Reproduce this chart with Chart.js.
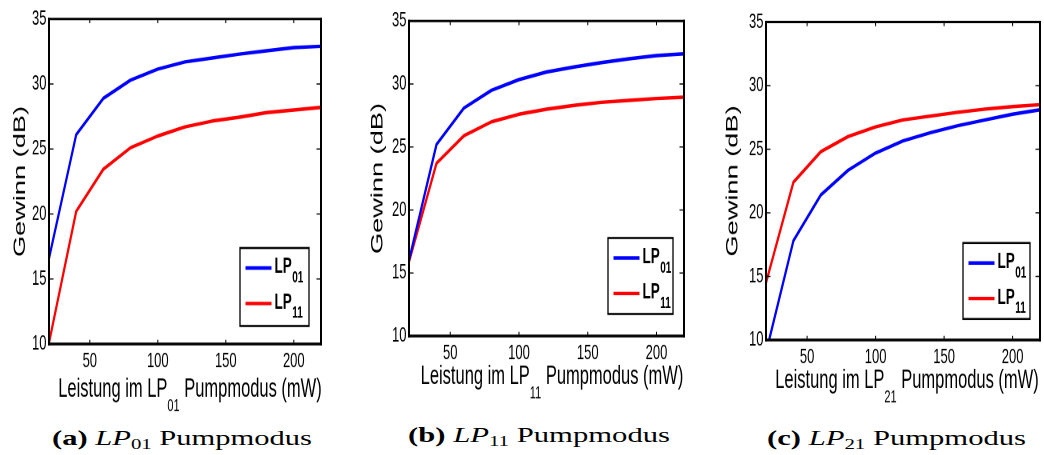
<!DOCTYPE html>
<html>
<head>
<meta charset="utf-8">
<script src="https://cdn.jsdelivr.net/npm/chart.js@4.4.1/dist/chart.umd.min.js"></script>
<style>
  html, body { margin: 0; padding: 0; background: #fff; }
  #fig { position: relative; width: 1044px; height: 455px; overflow: hidden; background: #fff; }
  .panel { position: absolute; top: 0; transform-origin: 0 0; }
  .panel canvas { display: block; }
  .cap { position: absolute; white-space: nowrap; font-family: "Liberation Serif", "Times New Roman", serif;
         font-size: 22px; line-height: 22px; color: #000; transform-origin: 0 0; }
  .cap i { font-style: italic; }
  .cap sub { font-size: 15px; vertical-align: -4px; line-height: 0; }
</style>
</head>
<body>
<div id="fig">
  <div class="panel" id="pa"><canvas id="ca"></canvas></div>
  <div class="panel" id="pb"><canvas id="cb"></canvas></div>
  <div class="panel" id="pc"><canvas id="cc"></canvas></div>
  <div class="cap" id="capa"><b>(a)</b> <i>LP</i><sub>01</sub> Pumpmodus</div>
  <div class="cap" id="capb"><b>(b)</b> <i>LP</i><sub>11</sub> Pumpmodus</div>
  <div class="cap" id="capc"><b>(c)</b> <i>LP</i><sub>21</sub> Pumpmodus</div>
</div>
<script>
// Pump power (mW) at which the gain was evaluated
const pumpPower = [20, 40, 60, 80, 100, 120, 140, 160, 180, 200, 220];

// Signal gain (dB) for the LP01 and LP11 signal modes, per pump mode
const gainLP01_pumpLP01 = [16.6, 26.1, 28.9, 30.3, 31.15, 31.7, 32.0, 32.3, 32.55, 32.8, 32.9];
const gainLP11_pumpLP01 = [10.1, 20.2, 23.45, 25.1, 26.0, 26.7, 27.15, 27.45, 27.8, 28.0, 28.2];

const gainLP01_pumpLP11 = [16.0, 25.2, 28.1, 29.5, 30.35, 30.95, 31.35, 31.7, 32.0, 32.25, 32.4];
const gainLP11_pumpLP11 = [15.9, 23.7, 25.9, 27.0, 27.6, 28.0, 28.3, 28.55, 28.7, 28.85, 28.95];

const gainLP01_pumpLP21 = [9.0, 17.8, 21.4, 23.35, 24.7, 25.65, 26.3, 26.85, 27.3, 27.75, 28.1];
const gainLP11_pumpLP21 = [14.5, 22.4, 24.8, 26.0, 26.75, 27.3, 27.6, 27.9, 28.15, 28.35, 28.5];

// Axis ticks and labels
const xTickValues = [50, 100, 150, 200];
const yTickValues = [10, 15, 20, 25, 30, 35];
const seriesLabels = ['LP01', 'LP11'];
const seriesColors = ['#0000ff', '#ff0000'];
const pumpModes = ['01', '11', '21'];
const yTitle = 'Gewinn (dB)';

// Each plot canvas is drawn flat and stretched vertically on screen
const S = 1.6;
const CANVAS_H = 260;
const SANS = '"Liberation Sans", Arial, Helvetica, sans-serif';

// Panel geometry in page pixels
const panels = [
  { wrap: 'pa', left: 0,   width: 332, top: 19, bottom: 344, plotLeft: 49, plotRight: 321,
    yTitleX: 20.5, xTitleCx: 190, xTitleBase: 397,
    legend: { x: 240, y: 248, w: 69, h: 78 },
    series: [gainLP01_pumpLP01, gainLP11_pumpLP01], mode: pumpModes[0] },
  { wrap: 'pb', left: 360, width: 334, top: 21, bottom: 336, plotLeft: 49, plotRight: 324,
    yTitleX: 18, xTitleCx: 192, xTitleBase: 384,
    legend: { x: 608, y: 238, w: 65, h: 76 },
    series: [gainLP01_pumpLP11, gainLP11_pumpLP11], mode: pumpModes[1] },
  { wrap: 'pc', left: 712, width: 332, top: 22, bottom: 340, plotLeft: 54, plotRight: 328,
    yTitleX: 21, xTitleCx: 195, xTitleBase: 388,
    legend: { x: 963, y: 243, w: 67, h: 76 },
    series: [gainLP01_pumpLP21, gainLP11_pumpLP21], mode: pumpModes[2] }
];

// Axes box, inward ticks, axis titles with subscripts and the framed legend
const panelDecor = {
  id: 'panelDecor',
  afterDatasetsDraw(chart, args, o) {
    const { ctx, chartArea: a } = chart;
    const xs = chart.scales.x, ys = chart.scales.y;
    ctx.save();
    ctx.strokeStyle = '#000';
    ctx.fillStyle = '#000';

    // inward tick marks on all four sides
    ctx.lineWidth = 1;
    xs.ticks.forEach(t => {
      const px = xs.getPixelForValue(t.value);
      ctx.beginPath();
      ctx.moveTo(px, a.bottom); ctx.lineTo(px, a.bottom - 2.6);
      ctx.moveTo(px, a.top); ctx.lineTo(px, a.top + 2.6);
      ctx.stroke();
    });
    ctx.lineWidth = 0.8;
    ys.ticks.forEach(t => {
      const py = ys.getPixelForValue(t.value);
      ctx.beginPath();
      ctx.moveTo(a.left, py); ctx.lineTo(a.left + 4.5, py);
      ctx.moveTo(a.right, py); ctx.lineTo(a.right - 4.5, py);
      ctx.stroke();
    });

    // axes box
    ctx.lineWidth = 2;
    ctx.beginPath();
    ctx.moveTo(a.left, a.top - 0.8); ctx.lineTo(a.left, a.bottom + 0.9);
    ctx.moveTo(a.right, a.top - 0.8); ctx.lineTo(a.right, a.bottom + 0.9);
    ctx.stroke();
    ctx.lineWidth = 1.5;
    ctx.beginPath();
    ctx.moveTo(a.left - 1, a.top); ctx.lineTo(a.right + 1, a.top);
    ctx.stroke();
    ctx.lineWidth = 1.8;
    ctx.beginPath();
    ctx.moveTo(a.left - 1, a.bottom); ctx.lineTo(a.right + 1, a.bottom);
    ctx.stroke();

    // y axis title
    ctx.save();
    ctx.translate(o.yTitleX, (a.top + a.bottom) / 2);
    ctx.rotate(-Math.PI / 2);
    ctx.font = '17px ' + SANS;
    ctx.textAlign = 'center';
    ctx.textBaseline = 'middle';
    ctx.fillText(yTitle, 0, 0);
    ctx.restore();

    // x axis title with subscripted pump mode
    const parts = [
      { t: 'Leistung im LP', f: '16.5px ' + SANS, dy: 0 },
      { t: o.mode, f: '11px ' + SANS, dy: 8.75 },
      { t: ' Pumpmodus (mW)', f: '16.5px ' + SANS, dy: 0 }
    ];
    let total = 0;
    parts.forEach(p => { ctx.font = p.f; p.w = ctx.measureText(p.t).width; total += p.w; });
    let x = o.xTitleCx - total / 2;
    const base = o.xTitleBase / S;
    ctx.textAlign = 'left';
    ctx.textBaseline = 'alphabetic';
    parts.forEach(p => { ctx.font = p.f; ctx.fillText(p.t, x, base + p.dy); x += p.w; });

    // legend
    const L = o.legend;
    const bx = L.x, by = L.y / S, bw = L.w, bh = L.h / S;
    ctx.fillStyle = '#fff';
    ctx.fillRect(bx, by, bw, bh);
    ctx.strokeStyle = '#000';
    ctx.lineWidth = 1.3;
    ctx.strokeRect(bx, by, bw, bh);
    chart.data.datasets.forEach((ds, i) => {
      const ly = by + (20 + 35.5 * i) / S;
      ctx.strokeStyle = ds.borderColor;
      ctx.lineWidth = 2.2;
      ctx.beginPath();
      ctx.moveTo(bx + 5.5, ly); ctx.lineTo(bx + 31.5, ly);
      ctx.stroke();
      const m = /^(\D+)(\d+)$/.exec(ds.label);
      ctx.fillStyle = '#000';
      ctx.font = 'bold 13.5px ' + SANS;
      const tx = bx + 34.5, tb = ly + 3.2;
      ctx.fillText(m[1], tx, tb);
      const w = ctx.measureText(m[1]).width;
      ctx.font = 'bold 10px ' + SANS;
      ctx.fillText(m[2], tx + w + 0.5, tb + 5.8);
    });
    ctx.restore();
  }
};

panels.forEach(p => {
  const wrap = document.getElementById(p.wrap);
  wrap.style.left = p.left + 'px';
  wrap.style.width = p.width + 'px';
  wrap.style.height = CANVAS_H + 'px';
  wrap.style.transform = 'scaleY(' + S + ')';
  const canvas = wrap.querySelector('canvas');
  canvas.width = p.width;
  canvas.height = CANVAS_H;
  const xAxisH = CANVAS_H - p.bottom / S;

  new Chart(canvas, {
    type: 'line',
    data: {
      datasets: p.series.map((vals, i) => ({
        label: seriesLabels[i],
        data: pumpPower.map((x, j) => ({ x: x, y: vals[j] })),
        borderColor: seriesColors[i],
        backgroundColor: seriesColors[i],
        borderWidth: 2.2,
        borderJoinStyle: 'round',
        pointRadius: 0,
        fill: false,
        tension: 0
      }))
    },
    plugins: [panelDecor],
    options: {
      responsive: false,
      animation: false,
      devicePixelRatio: 2,
      layout: { padding: { left: 0, right: p.width - p.plotRight, top: p.top / S, bottom: 0 } },
      plugins: {
        legend: { display: false },
        tooltip: { enabled: false },
        panelDecor: {
          yTitleX: p.yTitleX, xTitleCx: p.xTitleCx, xTitleBase: p.xTitleBase,
          legend: { x: p.legend.x - p.left, y: p.legend.y, w: p.legend.w, h: p.legend.h },
          mode: p.mode
        }
      },
      scales: {
        x: {
          type: 'linear', min: 20, max: 220,
          grid: { display: false, drawTicks: false },
          border: { display: false },
          afterBuildTicks: s => { s.ticks = xTickValues.map(v => ({ value: v })); },
          afterFit: s => { s.height = xAxisH; },
          ticks: { color: '#000', font: { family: SANS, size: 13 }, padding: 3.3,
                   maxRotation: 0, autoSkip: false }
        },
        y: {
          type: 'linear', min: 10, max: 35,
          grid: { display: false, drawTicks: false },
          border: { display: false },
          afterBuildTicks: s => { s.ticks = yTickValues.map(v => ({ value: v })); },
          afterFit: s => { s.width = p.plotLeft; },
          ticks: { color: '#000', font: { family: SANS, size: 13 }, padding: 2.5 }
        }
      }
    }
  });
});

// Sub-figure captions: placed by baseline and spread to their column width
const captions = [
  { id: 'capa', left: 52,  right: 312,  baseline: 445 },
  { id: 'capb', left: 408, right: 670,  baseline: 442 },
  { id: 'capc', left: 767, right: 1026, baseline: 445 }
];
captions.forEach(c => {
  const el = document.getElementById(c.id);
  el.style.left = c.left + 'px';
  el.style.top = (c.baseline - 18.4) + 'px';
  const w = el.getBoundingClientRect().width;
  el.style.transform = 'scaleX(' + ((c.right - c.left) / w) + ')';
});
</script>
</body>
</html>
